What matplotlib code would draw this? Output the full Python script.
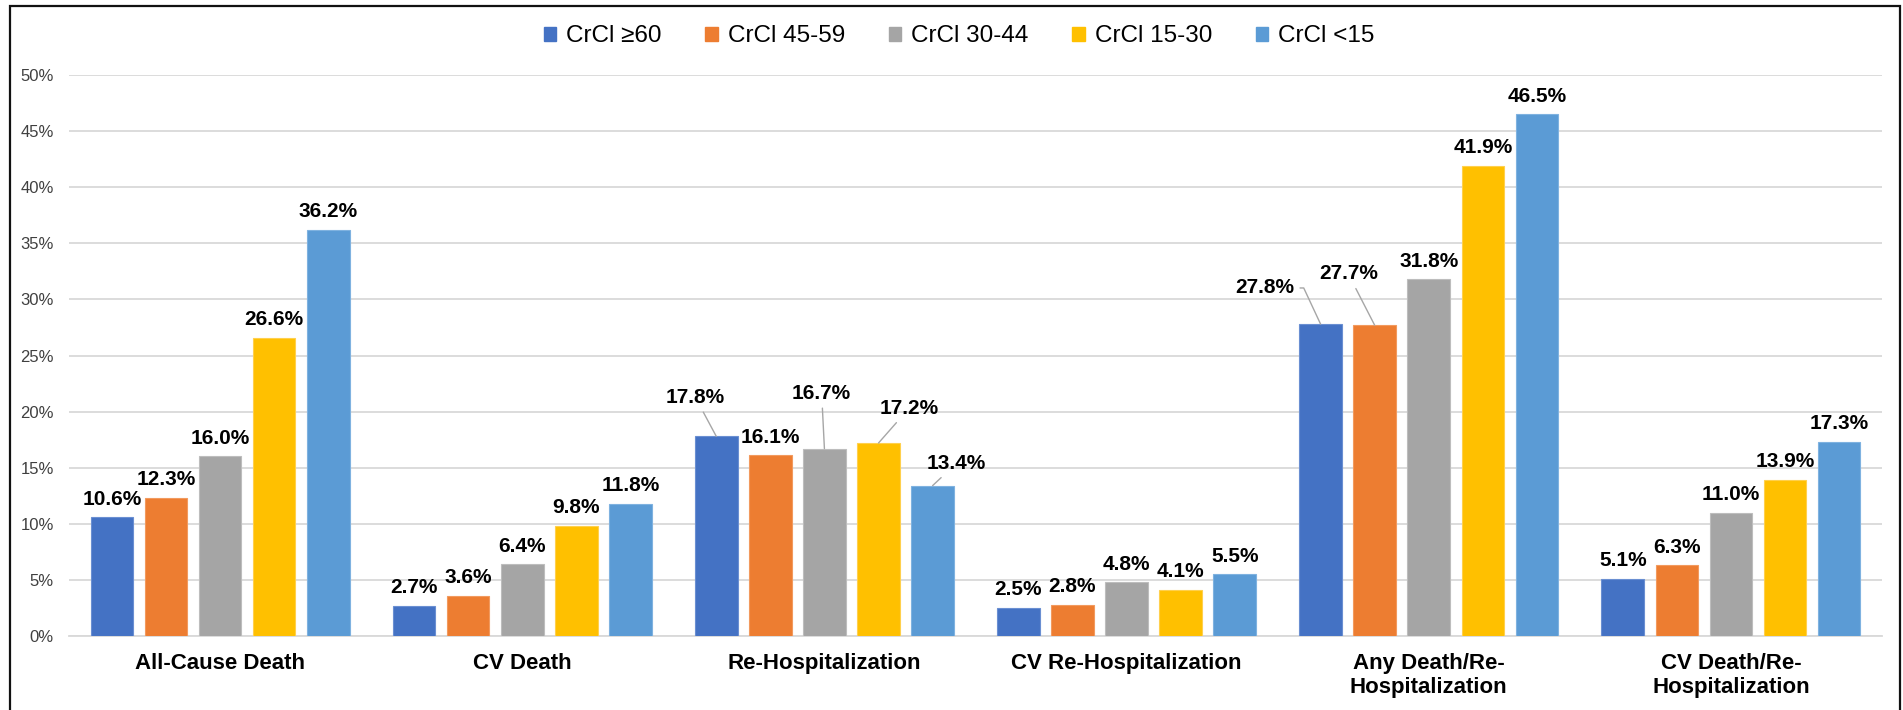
import matplotlib
matplotlib.use("Agg")
import matplotlib.pyplot as plt
from matplotlib.patches import Patch, Rectangle
import numpy as np

# datos
categorias = ["All-Cause Death", "CV Death", "Re-Hospitalization",
              "CV Re-Hospitalization", "Any Death/Re-\nHospitalization",
              "CV Death/Re-\nHospitalization"]
series = ["CrCl \u226560", "CrCl 45-59", "CrCl 30-44", "CrCl 15-30", "CrCl <15"]
crcl_60 = [10.6, 2.7, 17.8, 2.5, 27.8, 5.1]
crcl_45 = [12.3, 3.6, 16.1, 2.8, 27.7, 6.3]
crcl_30 = [16.0, 6.4, 16.7, 4.8, 31.8, 11.0]
crcl_15 = [26.6, 9.8, 17.2, 4.1, 41.9, 13.9]
crcl_0 = [36.2, 11.8, 13.4, 5.5, 46.5, 17.3]
valores = [crcl_60, crcl_45, crcl_30, crcl_15, crcl_0]

colores = ["#4472C4", "#ED7D31", "#A5A5A5", "#FFC000", "#5B9BD5"]
bordes = ["#6A8FD2", "#F29A5E", "#BDBDBD", "#FFD04D", "#7FB2E0"]

# etiquetas desplazadas (grupo, serie) -> offset en puntos, estilo de linea
desplazadas = {
    (2, 0): ((-15, 28), "arc3"),
    (2, 2): ((-2, 40), "arc3"),
    (2, 3): ((22, 25), "arc3"),
    (2, 4): ((17, 16), "arc3"),
    (4, 0): ((-40, 26), "angle,angleA=0,angleB=115,rad=0"),
    (4, 1): ((-19, 37), "arc3"),
}

plt.rcParams["font.family"] = ["Liberation Sans", "DejaVu Sans"]

fig = plt.figure(figsize=(19.03, 7.10), dpi=100)
ax = fig.add_axes([69 / 1903, 74 / 710, (1882 - 69) / 1903, (636 - 75) / 710])

x = np.arange(len(categorias))
paso = 0.179
ancho = 0.141

for i, (vals, col, bor) in enumerate(zip(valores, colores, bordes)):
    xs = x + (i - 2) * paso
    ax.bar(xs, vals, width=ancho, color=col, edgecolor=bor, linewidth=0.8, zorder=3)
    for g, (xx, v) in enumerate(zip(xs, vals)):
        texto = f"{v:.1f}%"
        if (g, i) in desplazadas:
            off, estilo = desplazadas[(g, i)]
            ax.annotate(texto, xy=(xx, v), xytext=off, textcoords="offset points",
                        ha="center", va="center", fontsize=15, fontweight="bold",
                        color="#000000", zorder=4,
                        arrowprops=dict(arrowstyle="-", color="#A6A6A6", lw=1.0,
                                        connectionstyle=estilo, shrinkA=2, shrinkB=0))
        else:
            ax.annotate(texto, xy=(xx, v), xytext=(0, 13), textcoords="offset points",
                        ha="center", va="center", fontsize=15, fontweight="bold",
                        color="#000000", zorder=4)

ax.set_xlim(-0.5, 5.5)
ax.set_ylim(0, 50)
ax.set_yticks(np.arange(0, 51, 5))
ax.set_yticklabels([f"{t}%" for t in range(0, 51, 5)])
ax.set_xticks(x)
ax.set_xticklabels(categorias, fontsize=16, fontweight="bold", color="#000000")
ax.tick_params(axis="x", length=0, pad=12)
ax.tick_params(axis="y", length=0, pad=11, labelsize=12, labelcolor="#404040")
ax.grid(axis="y", color="#D9D9D9", linewidth=1.3, zorder=0)
for s in ["top", "right", "left"]:
    ax.spines[s].set_visible(False)
ax.spines["bottom"].set_color("#D9D9D9")
ax.spines["bottom"].set_linewidth(1.3)

handles = [Patch(facecolor=c, edgecolor=c) for c in colores]
fig.legend(handles, series, loc="center", bbox_to_anchor=(0.504, 0.949), ncol=5,
           frameon=False, fontsize=17.5, handlelength=0.52, handleheight=0.52,
           handletextpad=0.4, columnspacing=1.8)

# marco exterior
fig.patches.append(Rectangle((10 / 1903, -0.05), (1900 - 10) / 1903, 1.05 - 6 / 710,
                             transform=fig.transFigure, fill=False, linewidth=1.6,
                             edgecolor="#111111"))

fig.savefig("out.png", dpi=100)
